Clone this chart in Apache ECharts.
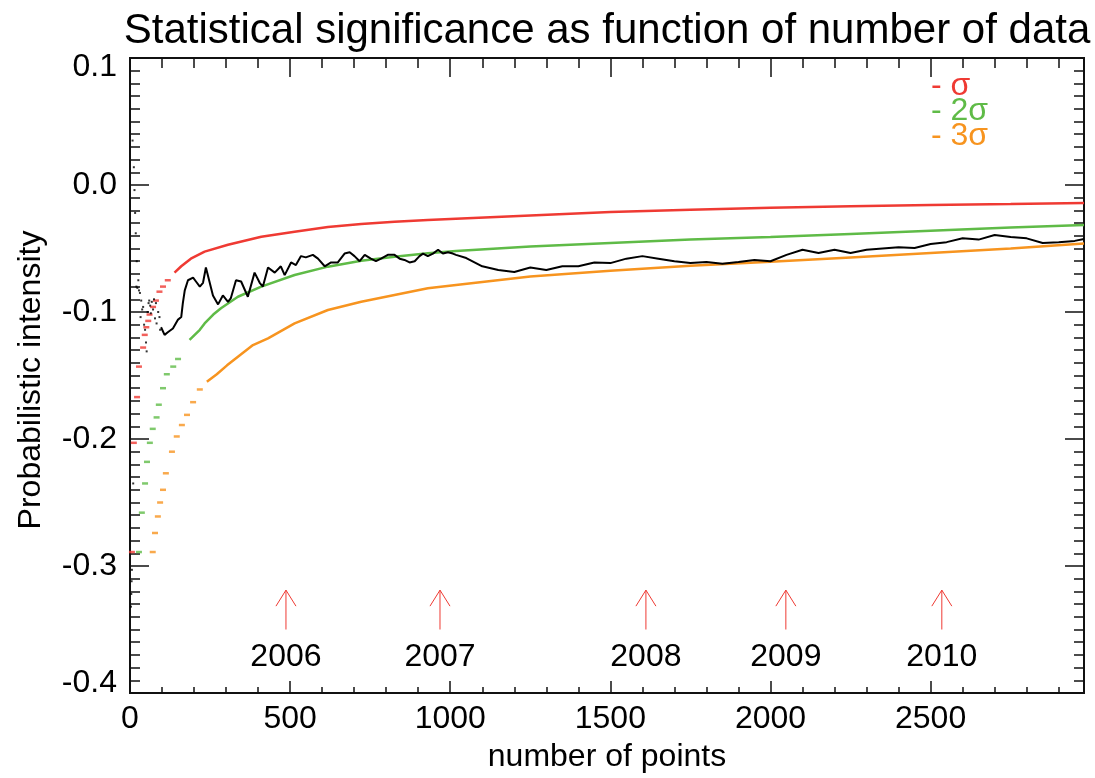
<!DOCTYPE html>
<html>
<head>
<meta charset="utf-8">
<script src="https://cdn.jsdelivr.net/npm/echarts@6.0.0/dist/echarts.min.js"></script>
<style>
html,body{margin:0;padding:0;background:#fff;}
#chart{width:1095px;height:778px;}
</style>
</head>
<body>
<div id="chart"></div>
<script>
// ---- data ----
const redN = [6,12,22,28,41,46,51,57,61,72,81,92,103,118,139,160,190,233,306,410,514,618,722,826,930,1000,1250,1500,1750,2000,2250,2500,2750,2979];
const redV = [-0.289,-0.203,-0.167,-0.143,-0.128,-0.118,-0.112,-0.107,-0.102,-0.096,-0.091,-0.084,-0.080,-0.075,-0.069,-0.064,-0.058,-0.0525,-0.047,-0.0407,-0.0368,-0.033,-0.0307,-0.029,-0.0276,-0.0268,-0.024,-0.0213,-0.0195,-0.018,-0.0168,-0.0157,-0.015,-0.0142];

const greenN = [28,37,47,53,62,71,83,90,103,115,135,150,186,218,233,260,284,337,410,514,618,722,826,930,1018,1250,1500,1750,2000,2250,2500,2750,2979];
const greenV = [-0.289,-0.258,-0.235,-0.218,-0.203,-0.192,-0.183,-0.173,-0.160,-0.149,-0.143,-0.137,-0.122,-0.114,-0.109,-0.102,-0.097,-0.088,-0.080,-0.0709,-0.0643,-0.0596,-0.0565,-0.0538,-0.052,-0.0485,-0.0457,-0.043,-0.041,-0.0385,-0.036,-0.0335,-0.0315];

const orangeN = [71,78,87,94,103,112,131,146,162,178,197,218,240,271,303,343,384,431,514,618,722,826,930,1018,1250,1500,1750,2000,2250,2500,2750,2979];
const orangeV = [-0.289,-0.274,-0.261,-0.250,-0.240,-0.227,-0.210,-0.198,-0.189,-0.181,-0.171,-0.161,-0.155,-0.149,-0.142,-0.134,-0.126,-0.1207,-0.109,-0.0984,-0.0919,-0.0866,-0.0813,-0.0787,-0.072,-0.0675,-0.0635,-0.0605,-0.057,-0.0535,-0.050,-0.046];

const blackDotN = [3,4,5,6,8,10,12,14,16,18,20,21,23,26,28,31,33,35,38,41,44,47,50,52,55,58,60,63,65,68,72,75,78,81,83,88,92,94];
const blackDotV = [-0.332,-0.322,-0.312,-0.303,0.035,-0.235,0.014,-0.004,-0.022,-0.038,-0.080,-0.060,-0.081,-0.075,-0.083,-0.085,-0.104,-0.091,-0.098,-0.096,-0.110,-0.114,-0.124,-0.131,-0.100,-0.093,-0.091,-0.095,-0.101,-0.092,-0.098,-0.090,-0.105,-0.093,-0.109,-0.100,-0.104,-0.114];

const blackN = [97,108,118,134,150,160,165,171,181,197,206,218,228,237,249,259,275,290,306,315,331,347,368,389,405,415,431,452,471,483,503,518,534,549,571,587,608,628,649,670,686,701,717,733,752,768,784,805,826,842,857,873,889,904,915,930,946,962,977,993,1008,1018,1050,1100,1150,1200,1250,1300,1350,1400,1450,1500,1550,1600,1650,1700,1750,1800,1850,1900,1950,2000,2050,2100,2150,2200,2250,2300,2350,2400,2450,2500,2550,2600,2650,2700,2750,2800,2850,2900,2950,2979];
const blackV = [-0.112,-0.118,-0.116,-0.113,-0.106,-0.104,-0.093,-0.083,-0.075,-0.073,-0.076,-0.080,-0.077,-0.065,-0.077,-0.087,-0.094,-0.087,-0.092,-0.089,-0.075,-0.076,-0.088,-0.069,-0.077,-0.080,-0.065,-0.069,-0.064,-0.071,-0.061,-0.063,-0.056,-0.057,-0.055,-0.058,-0.064,-0.061,-0.061,-0.054,-0.053,-0.056,-0.060,-0.055,-0.058,-0.060,-0.058,-0.055,-0.055,-0.058,-0.059,-0.061,-0.060,-0.056,-0.054,-0.056,-0.054,-0.051,-0.054,-0.053,-0.054,-0.055,-0.0575,-0.064,-0.067,-0.0685,-0.065,-0.067,-0.064,-0.064,-0.061,-0.0615,-0.058,-0.056,-0.058,-0.060,-0.0614,-0.0606,-0.062,-0.0606,-0.059,-0.060,-0.055,-0.051,-0.0535,-0.051,-0.0535,-0.051,-0.050,-0.049,-0.0496,-0.0465,-0.045,-0.042,-0.043,-0.0394,-0.041,-0.042,-0.0457,-0.045,-0.044,-0.0425];

const arrowN = [487, 968, 1611, 2048, 2535];
const arrowLabels = ['2006', '2007', '2008', '2009', '2010'];

const legendLabels = ['- \u03c3', '- 2\u03c3', '- 3\u03c3'];
const titleText = 'Statistical significance as function of number of data';
const xName = 'number of points';
const yName = 'Probabilistic intensity';

// ---- styling ----
const RED = '#ef3a33', GREEN = '#5fbb47', ORANGE = '#f7941f';
const FONT = '"Liberation Sans", Arial, Helvetica, sans-serif';
const X_MAX = 2979, Y_MIN = -0.4, Y_MAX = 0.1;

function pairs(ns, vs, test) {
  const out = [];
  for (let i = 0; i < ns.length; i++) if (test(ns[i])) out.push([ns[i], vs[i]]);
  return out;
}

const chart = echarts.init(document.getElementById('chart'), null, {renderer: 'canvas'});

const axisLine = {show: true, onZero: false, lineStyle: {color: '#111', width: 2}};
function xAx(pos, interval, len, labels) {
  return {
    type: 'value', position: pos, min: 0, max: X_MAX, interval: interval,
    axisLine: axisLine,
    axisTick: {show: true, inside: true, length: len, lineStyle: {color: '#111', width: 1.5}},
    axisLabel: labels ? {
      show: true, color: '#000', fontSize: 32, fontFamily: FONT, margin: 10,
      showMaxLabel: false,
      formatter: v => (v % 500 === 0 ? String(v) : '')
    } : {show: false},
    splitLine: {show: false}
  };
}
const labelRich = {
  t: {fontSize: 32, fontFamily: FONT, color: '#000', padding: [18, 0, 0, 0]},
  b: {fontSize: 32, fontFamily: FONT, color: '#000', padding: [0, 0, 20, 0]}
};
function yAx(pos, labels) {
  return {
    type: 'value', position: pos, min: Y_MIN, max: Y_MAX, interval: 0.1,
    axisLine: axisLine,
    axisTick: {show: true, inside: true, length: 19, lineStyle: {color: '#111', width: 1.5}},
    minorTick: {show: true, splitNumber: 10, length: 10, lineStyle: {color: '#111', width: 1.5}},
    axisLabel: labels ? {
      show: true, color: '#000', fontSize: 32, fontFamily: FONT, margin: 13,
      rich: labelRich,
      formatter: v => {
        const s = Math.abs(v) < 1e-9 ? '0.0' : v.toFixed(1);
        if (Math.abs(v - Y_MAX) < 1e-9) return '{t|' + s + '}';
        if (Math.abs(v - Y_MIN) < 1e-9) return '{b|' + s + '}';
        return s;
      }
    } : {show: false},
    splitLine: {show: false}
  };
}

const dashSym = 'rect';

const option = {
  animation: false,
  backgroundColor: '#fff',
  grid: {left: 130, right: 11, top: 58, bottom: 85, containLabel: false},
  xAxis: [
    xAx('bottom', 500, 12, true),
    xAx('bottom', 100, 6, false),
    xAx('top', 500, 19, false),
    xAx('top', 100, 10, false)
  ],
  yAxis: [yAx('left', true), yAx('right', false)],
  graphic: [
    {type: 'text', x: 607, y: 31, style: {text: titleText, font: '42px ' + FONT, fill: '#000', align: 'center', verticalAlign: 'middle'}},
    {type: 'text', x: 607, y: 757, style: {text: xName, font: '32px ' + FONT, fill: '#000', align: 'center', verticalAlign: 'middle'}},
    {type: 'text', x: 31, y: 380, rotation: Math.PI / 2, style: {text: yName, font: '32px ' + FONT, fill: '#000', align: 'center', verticalAlign: 'middle'}},
    {type: 'text', x: 931, y: 86, style: {text: legendLabels[0], font: '32px ' + FONT, fill: RED, align: 'left', verticalAlign: 'middle'}},
    {type: 'text', x: 931, y: 111, style: {text: legendLabels[1], font: '32px ' + FONT, fill: GREEN, align: 'left', verticalAlign: 'middle'}},
    {type: 'text', x: 931, y: 136, style: {text: legendLabels[2], font: '32px ' + FONT, fill: ORANGE, align: 'left', verticalAlign: 'middle'}}
  ],
  series: [
    // red σ
    {type: 'scatter', symbol: dashSym, symbolSize: [6, 2.5], itemStyle: {color: RED}, data: pairs(redN, redV, n => n < 139), silent: true},
    {type: 'line', showSymbol: false, lineStyle: {color: RED, width: 2.5}, data: pairs(redN, redV, n => n >= 139), silent: true},
    // green 2σ
    {type: 'scatter', symbol: dashSym, symbolSize: [6, 2.5], itemStyle: {color: GREEN}, data: pairs(greenN, greenV, n => n < 186), silent: true},
    {type: 'line', showSymbol: false, lineStyle: {color: GREEN, width: 2.5}, data: pairs(greenN, greenV, n => n >= 186), silent: true},
    // orange 3σ
    {type: 'scatter', symbol: dashSym, symbolSize: [6, 2.5], itemStyle: {color: ORANGE}, data: pairs(orangeN, orangeV, n => n < 240), silent: true},
    {type: 'line', showSymbol: false, lineStyle: {color: ORANGE, width: 2.5}, data: pairs(orangeN, orangeV, n => n >= 240), silent: true},
    // black data
    {type: 'scatter', symbol: 'rect', symbolSize: [2, 2], itemStyle: {color: '#000'}, data: pairs(blackDotN, blackDotV, () => true), silent: true},
    {type: 'line', showSymbol: false, lineStyle: {color: '#000', width: 2}, data: pairs(blackN, blackV, () => true), silent: true},
    // year arrows
    {
      type: 'custom', silent: true, clip: false,
      data: arrowN.map((n, i) => [n, i]),
      renderItem: function (params, api) {
        const n = api.value(0);
        const idx = api.value(1);
        const tip = api.coord([n, -0.319]);
        const base = api.coord([n, -0.350]);
        return {
          type: 'group',
          children: [
            {type: 'line', shape: {x1: tip[0], y1: tip[1], x2: base[0], y2: base[1]}, style: {stroke: RED, lineWidth: 1}},
            {type: 'polyline', shape: {points: [[tip[0] - 10, tip[1] + 16], [tip[0], tip[1]], [tip[0] + 10, tip[1] + 16]]}, style: {stroke: RED, fill: null, lineWidth: 1}},
            {type: 'text', x: base[0], y: base[1] + 28, style: {text: arrowLabels[idx], font: '32px ' + FONT, fill: '#000', align: 'center', verticalAlign: 'middle'}}
          ]
        };
      }
    }
  ]
};
chart.setOption(option);
</script>
</body>
</html>
